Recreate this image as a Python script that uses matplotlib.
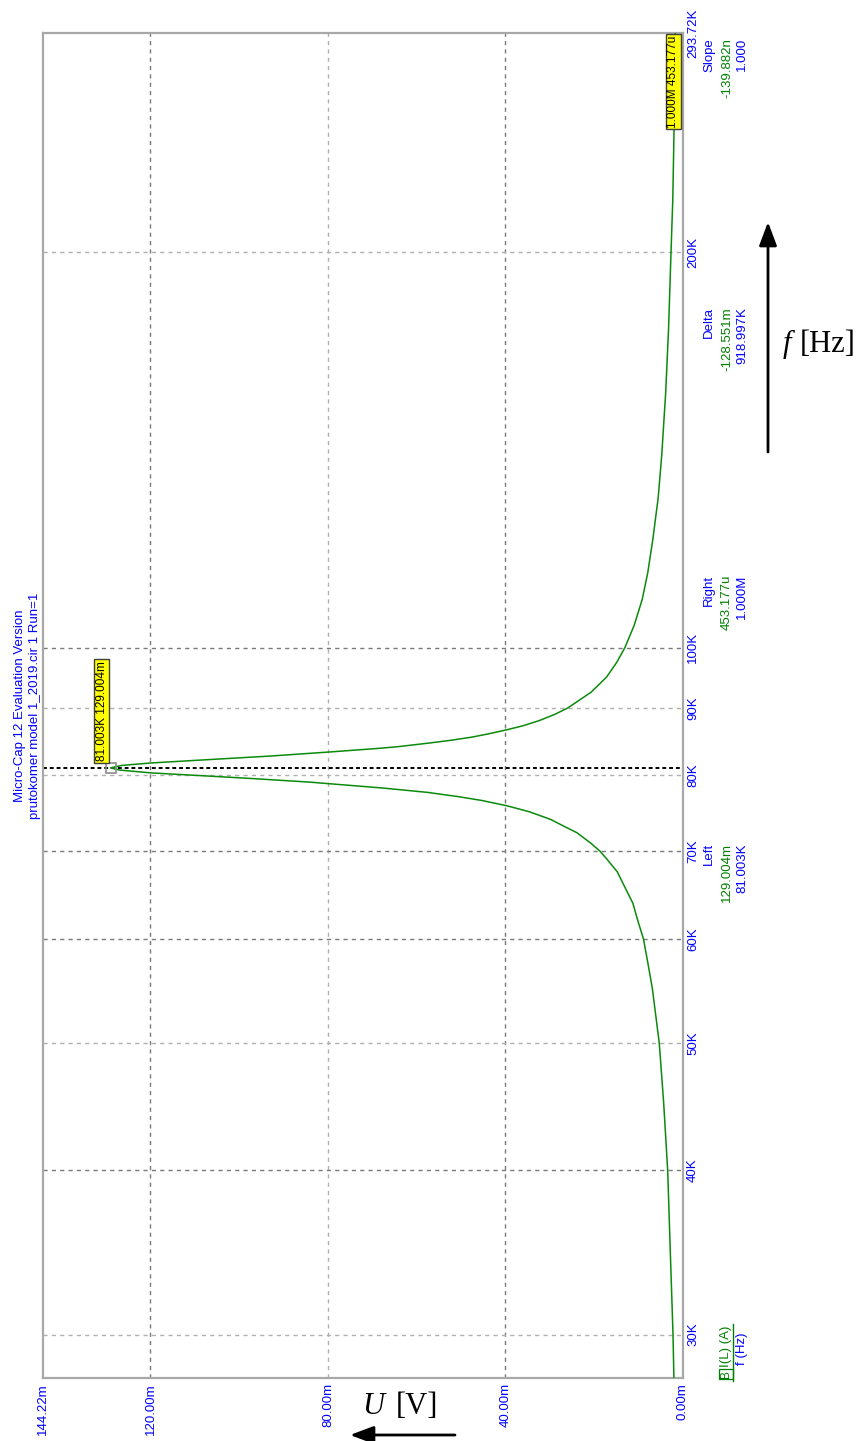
import matplotlib
matplotlib.use("Agg")
import matplotlib.pyplot as plt
import matplotlib.transforms as mtransforms
from matplotlib.ticker import NullLocator

# Frequency sweep (kHz) and inductor current I(L) (mA)
freq_khz = [27.8, 30, 35, 40, 45, 50, 55, 57.5, 60, 62, 63.9, 65, 67.5, 69,
            70, 71, 72.3, 73, 74, 75, 75.8, 76.5, 77, 77.6, 78.2, 78.8, 79.0,
            79.5, 79.8, 80.3, 80.7, 81.003, 81.35, 81.7, 82.2, 82.7, 83.3,
            83.8, 84.05, 84.6, 85, 85.5, 86, 86.6, 87.2, 88, 89, 90, 92.5, 95,
            97.5, 100, 104, 108.8, 114, 120.9, 130, 140, 156.4, 175, 200,
            219.5, 250, 293.72]
current_ma = [2.05, 2.25, 2.9, 3.45, 4.35, 5.35, 6.9, 7.9, 8.9, 10.2, 11.3,
              12.4, 14.8, 17.1, 18.7, 20.8, 23.9, 26.4, 29.8, 34.6, 39.7, 45.3,
              50.4, 57.6, 67.8, 80.0, 84.0, 97.0, 105.5, 120.0, 127.0, 129.004,
              126.5, 120.0, 106.5, 93.0, 79.5, 69.0, 64.5, 57.3, 52.5, 47.5,
              43.7, 39.7, 36.1, 32.4, 28.8, 25.9, 20.7, 17.2, 14.9, 13.1, 11.0,
              9.2, 7.95, 6.8, 5.6, 4.8, 3.9, 3.25, 2.7, 2.3, 2.0, 1.75]

u_ticks = [144.22, 120.0, 80.0, 40.0, 0.0]
u_tick_labels = ["144.22m", "120.00m", "80.00m", "40.00m", "0.00m"]
u_grid = [120.0, 80.0, 40.0]
u_grid_dark = [True, False, True]

f_ticks_khz = [30, 40, 50, 60, 70, 80, 90, 100, 200, 293.72]
f_tick_labels = ["30K", "40K", "50K", "60K", "70K", "80K", "90K", "100K",
                 "200K", "293.72K"]
f_grid = [30, 40, 50, 60, 70, 80, 90, 100, 200]
f_grid_dark = [False, True, False, True, True, False, False, True, False]

peak_f_khz = 81.003
peak_u_ma = 129.004
right_cursor = ("1.000M", "453.177u")

# Cursor readout columns: heading, y-value, x-value, top end (px)
readouts = [
    ("Slope", "-139.882n", "1.000", 38),
    ("Delta", "-128.551m", "918.997K", 307),
    ("Right", "453.177u", "1.000M", 575),
    ("Left", "129.004m", "81.003K", 843),
]

title_lines = ["Micro-Cap 12 Evaluation Version",
               "prutokomer model 1_2019.cir 1 Run=1"]

BLUE = "#0000ff"
GREEN = "#008000"
CURVE = "#0b8a0b"
FONT = "Liberation Sans"
FS = 9.5

W, H = 860, 1441
fig = plt.figure(figsize=(W / 100, H / 100), dpi=100)
L, R, T, B = 43, 683, 33, 1378
ax = fig.add_axes([L / W, 1 - B / H, (R - L) / W, (B - T) / H])

ax.set_xlim(u_ticks[0], u_ticks[-1])
ax.set_yscale("log")
ax.set_ylim(freq_khz[0], f_ticks_khz[-1])
ax.set_xticks([])
ax.set_yticks([])
ax.yaxis.set_minor_locator(NullLocator())
ax.xaxis.set_minor_locator(NullLocator())
for s in ax.spines.values():
    s.set_color("#a8a8a8")
    s.set_linewidth(1.6)

# grid
for u, dark in zip(u_grid, u_grid_dark):
    ax.axvline(u, color="#7a7a7a" if dark else "#b0b0b0", lw=1.0,
               ls=(0, (3, 3)), zorder=1)
for f, dark in zip(f_grid, f_grid_dark):
    ax.axhline(f, color="#7a7a7a" if dark else "#b0b0b0", lw=1.0,
               ls=(0, (3, 3)), zorder=1)

# cursor line at the resonance
ax.axhline(peak_f_khz, color="black", lw=1.4, ls=(0, (2, 1.5)), zorder=2)

# response curve
ax.plot(current_ma, freq_khz, color=CURVE, lw=1.1, zorder=3)
ax.plot([peak_u_ma], [peak_f_khz], marker="s", ms=6.5, mfc="none",
        mec="#8c8c8c", mew=1.2, zorder=4)

ax.annotate(f"{peak_f_khz:.3f}K {peak_u_ma:.3f}m", xy=(peak_u_ma, peak_f_khz),
            xytext=(-9, 57), textcoords="offset pixels", rotation=90,
            ha="center", va="center", fontsize=8.5, family=FONT,
            color="black", zorder=5,
            bbox=dict(boxstyle="square,pad=0.15", fc="#ffff00", ec="#404040",
                      lw=1.0))

# tick labels
bx = mtransforms.blended_transform_factory(ax.transData, ax.transAxes)
off_down = mtransforms.ScaledTranslation(0, -0.05, fig.dpi_scale_trans)
for u, lab in zip(u_ticks, u_tick_labels):
    ax.text(u, 0, lab, transform=bx + off_down, rotation=90,
            rotation_mode="anchor", ha="right", va="center", fontsize=FS,
            family=FONT, color=BLUE)

by = mtransforms.blended_transform_factory(ax.transAxes, ax.transData)
off_right = mtransforms.ScaledTranslation(0.10, 0, fig.dpi_scale_trans)
for f, lab in zip(f_ticks_khz, f_tick_labels):
    ax.text(1, f, lab, transform=by + off_right, rotation=90,
            rotation_mode="anchor", ha="center", va="center", fontsize=FS,
            family=FONT, color=BLUE)


def ftext(px, py, s, **kw):
    kw.setdefault("family", FONT)
    kw.setdefault("fontsize", FS)
    return fig.text(px / W, 1 - py / H, s, **kw)


# title
for x, line in zip([20, 35], title_lines):
    ftext(x, (T + B) / 2, line, rotation=90, rotation_mode="anchor",
          ha="center", va="center", color=BLUE)

# cursor readouts
for head, yval, xval, top in readouts:
    ftext(709, top, head, rotation=90, rotation_mode="anchor", ha="right",
          va="center", color=BLUE)
    ftext(727, top, yval, rotation=90, rotation_mode="anchor", ha="right",
          va="center", color=GREEN)
    ftext(742, top, xval, rotation=90, rotation_mode="anchor", ha="right",
          va="center", color=BLUE)

# right cursor value (off scale, shown at the top)
ftext(673.5, 81.5, f"{right_cursor[0]} {right_cursor[1]}", rotation=90,
      ha="center", va="center", fontsize=8.5, color="black",
      bbox=dict(boxstyle="square,pad=0.15", fc="#ffff00", ec="#404040", lw=1.0))

# trace legend
ftext(726, 1374, "B", rotation=90, rotation_mode="anchor", ha="center",
      va="center", color=GREEN, fontsize=8.5,
      bbox=dict(boxstyle="square,pad=0.05", fc="none", ec=GREEN, lw=0.9))
ftext(726, 1346, "I(L) (A)", rotation=90, rotation_mode="anchor",
      ha="center", va="center", color=GREEN)
fig.add_artist(plt.Line2D([733 / W, 733 / W], [1 - 1381 / H, 1 - 1324 / H],
                          color=GREEN, lw=1.0))
ftext(742, 1349, "f (Hz)", rotation=90, rotation_mode="anchor", ha="center",
      va="center", color=BLUE)

# axis annotations
SERIF = "Liberation Serif"
ftext(783, 344, "f", family=SERIF, fontsize=22, style="italic", ha="left",
      va="center")
ftext(800, 344, "[Hz]", family=SERIF, fontsize=22, ha="left", va="center")
ftext(362, 1407, "U", family=SERIF, fontsize=22, style="italic", ha="left",
      va="center")
ftext(396, 1407, "[V]", family=SERIF, fontsize=22, ha="left", va="center")

arrow = dict(arrowstyle="-|>,head_length=1.2,head_width=0.45", color="black",
             lw=2.0, mutation_scale=12, shrinkA=0, shrinkB=0)
ax.annotate("", xy=(768, H - 222), xytext=(768, H - 452),
            xycoords="figure pixels", textcoords="figure pixels",
            arrowprops=arrow, annotation_clip=False)
ax.annotate("", xy=(350, H - 1435), xytext=(455, H - 1435),
            xycoords="figure pixels", textcoords="figure pixels",
            arrowprops=arrow, annotation_clip=False)

fig.savefig("out.png", dpi=100)
